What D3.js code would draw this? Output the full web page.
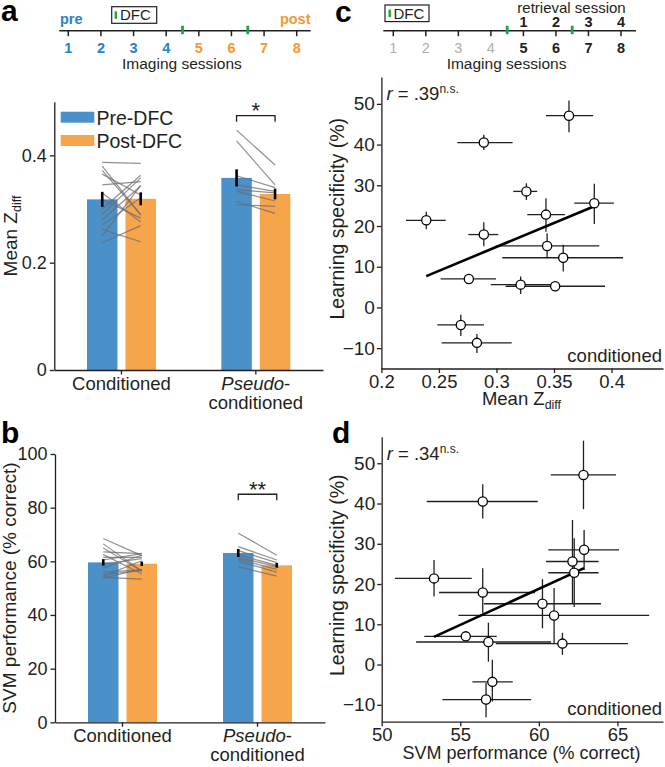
<!DOCTYPE html>
<html><head><meta charset="utf-8">
<script src="https://cdn.jsdelivr.net/npm/d3@7"></script>
<style>body{margin:0;background:#fff}svg{display:block}text{font-family:"Liberation Sans",Arial,Helvetica,sans-serif;fill:#231f20}</style>
</head><body>
<script>
// ---------------- DATA ----------------
const groups = ["Conditioned", "Pseudo-conditioned"];
const conds = ["Pre-DFC", "Post-DFC"];
// bar means / SEM
const zMeanPre = [0.318, 0.358], zMeanPost = [0.319, 0.328];
const zSemPre = [0.014, 0.016], zSemPost = [0.012, 0.010];
const svmMeanPre = [59.6, 63.1], svmMeanPost = [59.1, 58.5];
const svmSemPre = [1.2, 1.5], svmSemPost = [0.8, 0.9];
// individual animals (conditioned, n = 14)
const zPreCond  = [0.300, 0.372, 0.365, 0.387, 0.280, 0.262, 0.380, 0.250, 0.290, 0.330, 0.270, 0.345, 0.237, 0.318];
const zPostCond = [0.363, 0.289, 0.326, 0.385, 0.343, 0.239, 0.289, 0.344, 0.358, 0.276, 0.321, 0.351, 0.269, 0.283];
const svmPreCond  = [60.5, 66.5, 63.5, 68.5, 57.5, 54.0, 65.0, 54.5, 59.0, 62.5, 56.0, 61.5, 53.8, 55.0];
const svmPostCond = [62.84, 56.43, 62.88, 62.14, 62.25, 53.33, 56.43, 60.23, 60.97, 55.35, 56.79, 61.5, 57.04, 56.64];
// pseudo-conditioned (n = 8)
const zPrePseudo  = [0.447, 0.427, 0.362, 0.345, 0.336, 0.333, 0.314, 0.308];
const zPostPseudo = [0.382, 0.345, 0.340, 0.333, 0.330, 0.315, 0.292, 0.305];
const svmPrePseudo  = [70.5, 65.5, 64.0, 62.5, 61.5, 60.8, 60.0, 58.0];
const svmPostPseudo = [62.3, 60.5, 59.5, 58.5, 58.0, 57.0, 56.0, 54.5];
// learning specificity (%) per conditioned animal
const specificity = [47.1, 40.5, 28.5, 25.6, 22.8, 21.4, 17.9, 15.1, 12.2, 7.0, 5.6, 5.2, -4.3, -8.7];
// panel c error bars
const cXLo = [0.343, 0.266, 0.3146, 0.3676, 0.3268, 0.2214, 0.2755, 0.2993, 0.305, 0.2515, 0.295, 0.308, 0.2486, 0.2524];
const cXHi = [0.384, 0.314, 0.3354, 0.402, 0.3595, 0.2559, 0.3016, 0.3893, 0.410, 0.2996, 0.3502, 0.3943, 0.2891, 0.3132];
const cYLo = [43.0, 38.7, 26.4, 20.5, 18.6, 19.2, 15.0, 12.1, 8.8, 6.2, 3.3, 4.3, -7.0, -11.2];
const cYHi = [50.8, 42.4, 30.5, 30.4, 26.8, 23.5, 20.9, 18.2, 15.4, 7.8, 7.6, 6.0, -1.8, -6.5];
// panel d error bars
const dXLo = [60.76, 52.87, 60.6, 60.46, 60.6, 50.85, 53.65, 56.51, 54.88, 52.71, 52.19, 57.26, 55.77, 53.86];
const dXHi = [64.91, 59.93, 65.1, 63.8, 63.8, 55.73, 59.76, 63.95, 67.02, 57.32, 60.78, 65.67, 58.34, 59.51];
const dYLo = [38.6, 36.3, 23.5, 15.2, 14.3, 16.9, 12.8, 9.0, 5.3, 6.2, 0.7, 2.4, -9.2, -13.1];
const dYHi = [55.6, 44.8, 33.4, 35.9, 31.4, 26.0, 23.9, 21.2, 19.0, 7.8, 10.4, 7.9, 1.2, -4.6];
// tick labels / annotations
const zTicks = [0, 0.2, 0.4];
const svmTicks = [0, 20, 40, 60, 80, 100];
const specTicks = [-10, 0, 10, 20, 30, 40, 50];
const cXTicks = [0.2, 0.25, 0.3, 0.35, 0.4];
const dXTicks = [50, 55, 60, 65];
const sessions = [1, 2, 3, 4, 5, 6, 7, 8];
const retrieval = [1, 2, 3, 4];
const dfcAfter = [4.5, 6.5];
const rValues = [".39", ".34"];

// ---------------- STYLE ----------------
const BLUE = "#4a90c9", ORANGE = "#f7a54a", GREEN = "#1aa64b";
const HBLUE = "#2b7fc6", HORANGE = "#f4982f", GREY = "#aeaeae";
const W = 665, H = 767;
const svg = d3.select("body").append("svg").attr("width", W).attr("height", H);
svg.append("rect").attr("width", W).attr("height", H).attr("fill", "#fff");

function txt(g, x, y, s, o = {}) {
  const t = g.append("text").attr("x", x).attr("y", y).text(s)
    .attr("font-size", o.size || 18)
    .attr("text-anchor", o.anchor || "start");
  if (o.weight) t.attr("font-weight", o.weight);
  if (o.fill) t.style("fill", o.fill);
  if (o.italic) t.attr("font-style", "italic");
  if (o.rotate) t.attr("transform", `rotate(${o.rotate},${x},${y})`);
  return t;
}
function styleAxis(g) {
  g.selectAll("path.domain").attr("stroke", "#231f20").attr("stroke-width", 1.3);
  g.selectAll(".tick line").attr("stroke", "#231f20").attr("stroke-width", 1.3);
  g.selectAll(".tick text").attr("font-size", 18).style("fill", "#231f20")
    .attr("font-family", '"Liberation Sans",Arial,sans-serif');
}

// ---------------- HEADERS ----------------
function header(x0, x1, r0, r1, mode) {
  const g = svg.append("g");
  const s = d3.scaleLinear().domain([1, 8]).range([r0, r1]);
  const yl = 30.7;
  g.append("line").attr("x1", x0).attr("x2", x1).attr("y1", yl).attr("y2", yl)
    .attr("stroke", "#231f20").attr("stroke-width", 1.5);
  g.selectAll("line.tk").data(sessions).join("line").attr("class", "tk")
    .attr("x1", d => s(d)).attr("x2", d => s(d)).attr("y1", yl).attr("y2", yl + 5.5)
    .attr("stroke", "#231f20").attr("stroke-width", 1.5);
  g.selectAll("rect.dfc").data(dfcAfter).join("rect").attr("class", "dfc")
    .attr("x", d => s(d) - 1.4).attr("width", 2.8).attr("y", yl - 5).attr("height", 8.5)
    .attr("fill", GREEN);
  sessions.forEach(d => {
    let fill, weight;
    if (mode === "a") { fill = d <= 4 ? HBLUE : HORANGE; weight = "bold"; }
    else { fill = d <= 4 ? GREY : "#231f20"; weight = d <= 4 ? "normal" : "bold"; }
    txt(g, s(d), 52.5, d, { size: 14.5, anchor: "middle", fill, weight });
  });
  txt(g, (r0 + r1) / 2 - 0.6, 68.5, "Imaging sessions", { size: 15.5, anchor: "middle" });
  return { g, s };
}
// panel a header
{
  const { g, s } = header(59.3, 310.7, 68.3, 296.7, "a");
  txt(g, 60, 24, "pre", { size: 14.5, weight: "bold", fill: HBLUE });
  txt(g, 310.5, 24, "post", { size: 14.5, weight: "bold", fill: HORANGE, anchor: "end" });
  g.append("rect").attr("x", 111.7).attr("y", 6.7).attr("width", 45).attr("height", 16.6)
    .attr("fill", "none").attr("stroke", "#231f20").attr("stroke-width", 1.2);
  g.append("rect").attr("x", 114.6).attr("y", 11.3).attr("width", 2.4).attr("height", 7.5).attr("fill", GREEN);
  txt(g, 120, 20.3, "DFC", { size: 15 });
}
// panel c header
{
  const { g, s } = header(383.3, 636, 393.3, 621, "c");
  txt(g, 571.5, 12.6, "retrieval session", { size: 15, anchor: "middle" });
  retrieval.forEach((r, i) => txt(g, s(i + 5), 26.6, r, { size: 14.5, anchor: "middle", weight: "bold" }));
  g.append("rect").attr("x", 385).attr("y", 5).attr("width", 44).attr("height", 16.6)
    .attr("fill", "none").attr("stroke", "#231f20").attr("stroke-width", 1.2);
  g.append("rect").attr("x", 388.5).attr("y", 9.6).attr("width", 2.4).attr("height", 7.5).attr("fill", GREEN);
  txt(g, 393.5, 18.6, "DFC", { size: 15 });
}

// ---------------- BAR PANELS ----------------
function barPanel(opt) {
  const g = svg.append("g");
  const y = d3.scaleLinear().domain(opt.yDomain).range([opt.yBottom, opt.yTop]);
  const x0 = d3.scaleBand().domain(groups).range([opt.xLeft, opt.xRight]).paddingInner(0).paddingOuter(0);
  const x1 = d3.scaleBand().domain(conds).range([-34.5, 34.5]).paddingInner(0.208).paddingOuter(0);
  const cx = (gi, ci) => x0(groups[gi]) + x0.bandwidth() / 2 + x1(conds[ci]) + x1.bandwidth() / 2;
  // bars
  groups.forEach((gr, gi) => {
    [opt.meanPre[gi], opt.meanPost[gi]].forEach((v, ci) => {
      g.append("rect").attr("x", x0(gr) + x0.bandwidth() / 2 + x1(conds[ci]))
        .attr("width", x1.bandwidth()).attr("y", y(v)).attr("height", y(opt.yDomain[0]) - y(v))
        .attr("fill", ci === 0 ? BLUE : ORANGE);
    });
  });
  // paired lines
  const pairs = [[opt.preCond, opt.postCond, 0], [opt.prePseudo, opt.postPseudo, 1]];
  pairs.forEach(([pre, post, gi]) => {
    pre.forEach((v, i) => {
      g.append("line").attr("x1", cx(gi, 0)).attr("x2", cx(gi, 1))
        .attr("y1", y(v)).attr("y2", y(post[i]))
        .attr("stroke", "#6b6b6b").attr("stroke-opacity", 0.75).attr("stroke-width", 1.2);
    });
  });
  // error bars
  groups.forEach((gr, gi) => {
    [[opt.meanPre[gi], opt.semPre[gi]], [opt.meanPost[gi], opt.semPost[gi]]].forEach(([m, e], ci) => {
      g.append("line").attr("x1", cx(gi, ci)).attr("x2", cx(gi, ci))
        .attr("y1", y(m - e)).attr("y2", y(m + e)).attr("stroke", "#000").attr("stroke-width", 2.6);
    });
  });
  // axes
  const ya = g.append("g").attr("transform", `translate(${opt.xLeft},0)`)
    .call(d3.axisLeft(y).tickValues(opt.ticks).tickSize(4.5).tickSizeOuter(0).tickPadding(3).tickFormat(opt.fmt));
  styleAxis(ya);
  const xa = g.append("g").attr("transform", `translate(0,${opt.yBottom})`)
    .call(d3.axisBottom(x0).tickSize(4.5).tickSizeOuter(0).tickFormat(""));
  styleAxis(xa);
  const c0 = x0(groups[0]) + x0.bandwidth() / 2, c1 = x0(groups[1]) + x0.bandwidth() / 2;
  txt(g, c0, opt.labY, "Conditioned", { size: 18.5, anchor: "middle" });
  const t = g.append("text").attr("x", c1).attr("y", opt.labY).attr("text-anchor", "middle").attr("font-size", 18.5);
  t.append("tspan").attr("font-style", "italic").text("Pseudo");
  t.append("tspan").text("-");
  txt(g, c1, opt.labY + 19.5, "conditioned", { size: 18.5, anchor: "middle" });
  // significance bracket
  const by = y(opt.bracket), bl = cx(1, 0), br = cx(1, 1);
  g.append("path").attr("d", `M${bl},${by + 6}V${by}H${br}V${by + 6}`)
    .attr("fill", "none").attr("stroke", "#231f20").attr("stroke-width", 1.3);
  txt(g, (bl + br) / 2, by + opt.starDy, opt.stars, { size: 22, anchor: "middle" });
  return { g, y, x0 };
}

// panel a
const pa = barPanel({
  yDomain: [0, 0.5], yBottom: 370, yTop: 101.7, xLeft: 54.3, xRight: 323,
  meanPre: zMeanPre, meanPost: zMeanPost, semPre: zSemPre, semPost: zSemPost,
  preCond: zPreCond, postCond: zPostCond, prePseudo: zPrePseudo, postPseudo: zPostPseudo,
  ticks: zTicks, fmt: d => d === 0 ? "0" : d3.format(".1f")(d), labY: 389.5,
  bracket: 0.474, stars: "*", starDy: 2.5
});
{
  const t = pa.g.append("text").attr("transform", "translate(17,236) rotate(-90)")
    .attr("text-anchor", "middle").attr("font-size", 19);
  t.append("tspan").text("Mean Z");
  t.append("tspan").attr("font-size", 12.5).attr("dy", 4).text("diff");
  // legend
  const lg = pa.g.append("g");
  conds.forEach((c, i) => {
    lg.append("rect").attr("x", 60.7).attr("y", 111.7 + i * 23.3).attr("width", 33.6).attr("height", 11)
      .attr("fill", i === 0 ? BLUE : ORANGE);
    txt(lg, 96.5, 124.8 + i * 23.3, c, { size: 19.5 });
  });
}
// panel b
const pb = barPanel({
  yDomain: [0, 100], yBottom: 722.3, yTop: 454, xLeft: 55, xRight: 325,
  meanPre: svmMeanPre, meanPost: svmMeanPost, semPre: svmSemPre, semPost: svmSemPost,
  preCond: svmPreCond, postCond: svmPostCond, prePseudo: svmPrePseudo, postPseudo: svmPostPseudo,
  ticks: svmTicks, fmt: d3.format("d"), labY: 741.5,
  bracket: 85, stars: "**", starDy: 2.5
});
txt(pb.g, 16, 588, "SVM performance (% correct)", { size: 19, anchor: "middle", rotate: -90 });

// ---------------- SCATTER PANELS ----------------
function scatter(opt) {
  const g = svg.append("g");
  const x = d3.scaleLinear().domain(opt.xDomain).range([opt.xLeft, opt.xRight]);
  const y = d3.scaleLinear().domain(opt.yDomain).range([opt.yBottom, opt.yTop]);
  const xa = g.append("g").attr("transform", `translate(0,${opt.yBottom})`)
    .call(d3.axisBottom(x).tickValues(opt.xTicks).tickSize(4.5).tickSizeOuter(0).tickPadding(2).tickFormat(opt.xFmt));
  styleAxis(xa);
  xa.selectAll(".tick text").attr("font-size", 18.5);
  const ya = g.append("g").attr("transform", `translate(${opt.xLeft},0)`)
    .call(d3.axisLeft(y).tickValues(specTicks).tickSize(4.5).tickSizeOuter(0).tickPadding(2));
  styleAxis(ya);
  ya.selectAll(".tick text").attr("font-size", 19);
  const xs = opt.xs;
  // error bars
  xs.forEach((xv, i) => {
    g.append("line").attr("x1", x(opt.xLo[i])).attr("x2", x(opt.xHi[i]))
      .attr("y1", y(specificity[i])).attr("y2", y(specificity[i])).attr("stroke", "#231f20").attr("stroke-width", 1.3);
    g.append("line").attr("x1", x(xv)).attr("x2", x(xv))
      .attr("y1", y(opt.yLo[i])).attr("y2", y(opt.yHi[i])).attr("stroke", "#231f20").attr("stroke-width", 1.3);
  });
  // regression
  const mx = d3.mean(xs), my = d3.mean(specificity);
  const sxy = d3.sum(xs, (v, i) => (v - mx) * (specificity[i] - my));
  const sxx = d3.sum(xs, v => (v - mx) * (v - mx));
  const b = sxy / sxx, a0 = my - b * mx;
  const [xmin, xmax] = d3.extent(xs);
  g.append("line").attr("x1", x(xmin)).attr("x2", x(xmax)).attr("y1", y(a0 + b * xmin)).attr("y2", y(a0 + b * xmax))
    .attr("stroke", "#000").attr("stroke-width", 2.6);
  // points
  g.selectAll("circle").data(xs).join("circle")
    .attr("cx", d => x(d)).attr("cy", (d, i) => y(specificity[i])).attr("r", 4.6)
    .attr("fill", "#fff").attr("stroke", "#000").attr("stroke-width", 1.3);
  // texts
  const rt = g.append("text").attr("x", opt.xLeft + 5).attr("y", y(50) - 3.5).attr("font-size", 18.5);
  rt.append("tspan").attr("font-style", "italic").text("r");
  rt.append("tspan").text(" = " + opt.r);
  rt.append("tspan").attr("font-size", 12).attr("dy", -7).text("n.s.");
  txt(g, opt.xRight - 1, opt.yBottom - 6.8, "conditioned", { size: 18.5, anchor: "end" });
  txt(g, 344, (opt.yTop + opt.yBottom) / 2 - 4, "Learning specificity (%)", { size: 19.5, anchor: "middle", rotate: -90 });
  return { g, x, y };
}
const pc = scatter({
  xDomain: [0.2, 0.4447], xLeft: 381.4, xRight: 663, yDomain: [-15, 56.6], yBottom: 368.5, yTop: 77,
  xs: zPostCond, xLo: cXLo, xHi: cXHi, yLo: cYLo, yHi: cYHi, xTicks: cXTicks,
  xFmt: d => d3.format("")(+d.toFixed(2)), r: rValues[0]
});
{
  const t = pc.g.append("text").attr("x", 521.5).attr("y", 405).attr("text-anchor", "middle").attr("font-size", 18.5);
  t.append("tspan").text("Mean Z");
  t.append("tspan").attr("font-size", 12.5).attr("dy", 4).text("diff");
}
const pd = scatter({
  xDomain: [50, 67.9], xLeft: 381.7, xRight: 663, yDomain: [-14.2, 56.6], yBottom: 721.7, yTop: 436.7,
  xs: svmPostCond, xLo: dXLo, xHi: dXHi, yLo: dYLo, yHi: dYHi, xTicks: dXTicks,
  xFmt: d3.format("d"), r: rValues[1]
});
txt(pd.g, 521.5, 759, "SVM performance (% correct)", { size: 18, anchor: "middle" });

// panel letters
[["a", 1, 21], ["b", 1, 443], ["c", 335, 21.5], ["d", 332, 443]].forEach(([l, x, y]) =>
  txt(svg, x, y, l, { size: 30, weight: "bold", fill: "#000" }));
</script>
</body></html>
